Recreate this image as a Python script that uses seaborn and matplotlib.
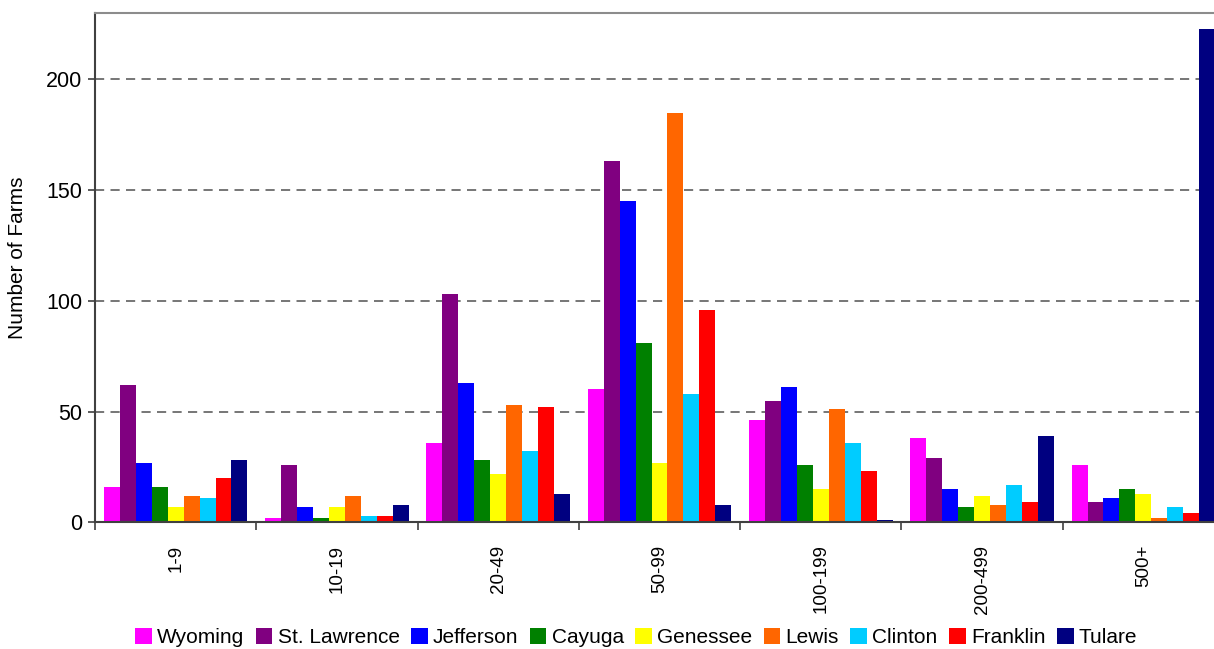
import matplotlib
matplotlib.use("Agg")
import matplotlib.pyplot as plt
import seaborn as sns
import pandas as pd

# Farm size classes (number of cows) and counties
size_classes = ["1-9", "10-19", "20-49", "50-99", "100-199", "200-499", "500+"]
counties = ["Wyoming", "St. Lawrence", "Jefferson", "Cayuga", "Genessee",
            "Lewis", "Clinton", "Franklin", "Tulare"]

# Number of farms per size class, one list per county
wyoming = [16, 2, 36, 60, 46, 38, 26]
st_lawrence = [62, 26, 103, 163, 55, 29, 9]
jefferson = [27, 7, 63, 145, 61, 15, 11]
cayuga = [16, 2, 28, 81, 26, 7, 15]
genessee = [7, 7, 22, 27, 15, 12, 13]
lewis = [12, 12, 53, 185, 51, 8, 2]
clinton = [11, 3, 32, 58, 36, 17, 7]
franklin = [20, 3, 52, 96, 23, 9, 4]
tulare = [28, 8, 13, 8, 1, 39, 223]

county_colors = ["#FF00FF", "#800080", "#0000FF", "#008000", "#FFFF00",
                 "#FF6600", "#00CCFF", "#FF0000", "#000080"]

series = [wyoming, st_lawrence, jefferson, cayuga, genessee,
          lewis, clinton, franklin, tulare]
rows = []
for name, vals in zip(counties, series):
    for cls, v in zip(size_classes, vals):
        rows.append({"Size": cls, "County": name, "Farms": v})
df = pd.DataFrame(rows)

sns.set_style("white")
plt.rcParams["font.family"] = ["Liberation Sans", "DejaVu Sans"]
plt.rcParams["text.color"] = "black"
plt.rcParams["axes.labelcolor"] = "black"
plt.rcParams["xtick.color"] = "black"
plt.rcParams["ytick.color"] = "black"

fig = plt.figure(figsize=(12.14, 6.49), dpi=100)
ax = fig.add_axes([95 / 1214, 1 - 522.3 / 649, (1224 - 95) / 1214, (522.3 - 13) / 649])

sns.barplot(data=df, x="Size", y="Farms", hue="County", order=size_classes,
            hue_order=counties, palette=county_colors, saturation=1,
            width=0.89, linewidth=0, errorbar=None, ax=ax)

ax.set_ylim(0, 230)
ax.set_xlim(-0.5, len(size_classes) - 0.5)
ax.set_yticks([0, 50, 100, 150, 200])
ax.yaxis.grid(True, linestyle=(0, (5.5, 3.8)), color="#5f5f5f", linewidth=1.2)
ax.xaxis.grid(False)
ax.set_axisbelow(True)

# category boundaries carry the tick marks, centres carry the labels
bounds = [i - 0.5 for i in range(len(size_classes) + 1)]
ax.set_xticks(bounds)
ax.set_xticklabels([])
ax.set_xticks(range(len(size_classes)), minor=True)
ax.set_xticklabels(size_classes, minor=True, rotation=90, fontsize=13.5,
                   va="top", ha="center")
ax.tick_params(axis="x", which="major", direction="out", length=6,
               width=1.2, color="#404040", bottom=True)
ax.tick_params(axis="x", which="minor", length=0, pad=16)
ax.tick_params(axis="y", direction="out", length=5, width=1.2,
               color="#404040", left=True, labelsize=15.5, pad=4)

ax.set_xlabel("")
ax.set_ylabel("Number of Farms", fontsize=15)
ax.yaxis.set_label_coords(-0.06, 0.52)

for side in ("left", "bottom"):
    ax.spines[side].set_color("#404040")
    ax.spines[side].set_linewidth(1.5)
ax.spines["top"].set_color("#8c8c8c")
ax.spines["top"].set_linewidth(1.5)
ax.spines["right"].set_visible(False)

handles, labels = ax.get_legend_handles_labels()
ax.get_legend().remove()
fig.legend(handles, labels, loc="center", bbox_to_anchor=(0.524, 0.018),
           ncol=9, frameon=False, fontsize=15, handlelength=0.8,
           handleheight=0.8, handletextpad=0.25, columnspacing=0.55,
           borderpad=0, borderaxespad=0)

fig.savefig("out.png", dpi=100)
